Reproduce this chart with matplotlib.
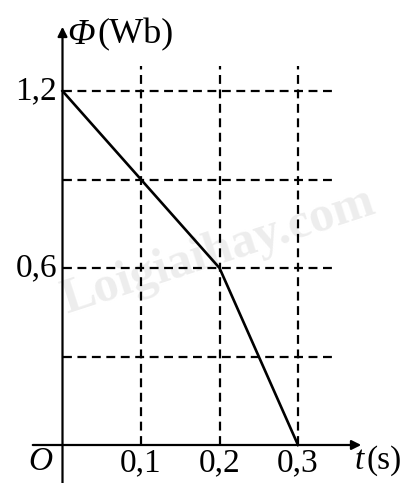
import matplotlib
matplotlib.use("Agg")
import matplotlib.pyplot as plt

# data
t_vals = [0.0, 0.1, 0.2, 0.3]
phi_vals = [1.2, 0.9, 0.6, 0.0]
x_ticks = [0.1, 0.2, 0.3]
x_tick_labels = ["0,1", "0,2", "0,3"]
y_grid = [0.3, 0.6, 0.9, 1.2]
y_tick_pos = [0.6, 1.2]
y_tick_labels = ["0,6", "1,2"]

plt.rcParams['font.family'] = ['Liberation Serif', 'DejaVu Serif']

W, H = 407, 483
fig = plt.figure(figsize=(W / 100, H / 100), dpi=100)
ax = fig.add_axes([0, 0, 1, 1])
ax.axis("off")

# pixel mapping: origin at (62.5, 445), 0.1 s = 78.5 px, 0.3 Wb = 88.5 px
X0, Y0 = 62.5, 445
sx = 785.0
sy = 88.5 / 0.3
ax.set_xlim(-X0 / sx, (W - X0) / sx)
ax.set_ylim(-(H - Y0) / sy, Y0 / sy)


def px(x):
    return (x - X0) / sx


def py(y):
    return (Y0 - y) / sy


# dashed grid
for yv in y_grid:
    ax.plot([0, px(337)], [yv, yv], color="black", lw=1.6,
            dashes=(4, 2.5), solid_capstyle="butt")
for xv in x_ticks:
    ax.plot([xv, xv], [0, py(66)], color="black", lw=1.6,
            dashes=(4, 2.5), solid_capstyle="butt")

# axes with arrows
ax.annotate("", xy=(px(364), 0), xytext=(px(30), 0),
            arrowprops=dict(arrowstyle="-|>", color="black", lw=1.6,
                            mutation_scale=14))
ax.annotate("", xy=(0, py(24)), xytext=(0, py(H + 5)),
            arrowprops=dict(arrowstyle="-|>", color="black", lw=1.6,
                            mutation_scale=14))

# the flux curve
ax.plot(t_vals, phi_vals, color="black", lw=1.9, solid_joinstyle="miter")

# watermark
ax.text(px(218), py(252), "Loigiaihay.com", fontsize=36, color="#ededed",
        rotation=18, ha="center", va="center", fontweight="bold", zorder=0)

fs = 24
for xv, lab in zip(x_ticks, x_tick_labels):
    ax.text(xv, py(463), lab, fontsize=fs, ha="center", va="center")
for yv, lab in zip(y_tick_pos, y_tick_labels):
    ax.text(px(57), yv, lab, fontsize=fs, ha="right", va="center")
ax.text(px(40), py(462), "O", fontsize=fs, style="italic",
        ha="center", va="center")
ax.text(px(355), py(461), "t", fontsize=fs, style="italic",
        ha="left", va="center")
ax.text(px(366), py(461), "(s)", fontsize=fs, ha="left", va="center")
ax.text(px(67), py(35), "Φ", fontsize=26, style="italic",
        ha="left", va="center")
ax.text(px(97), py(35), "(Wb)", fontsize=26, ha="left", va="center")

fig.savefig("out.png", dpi=100)
